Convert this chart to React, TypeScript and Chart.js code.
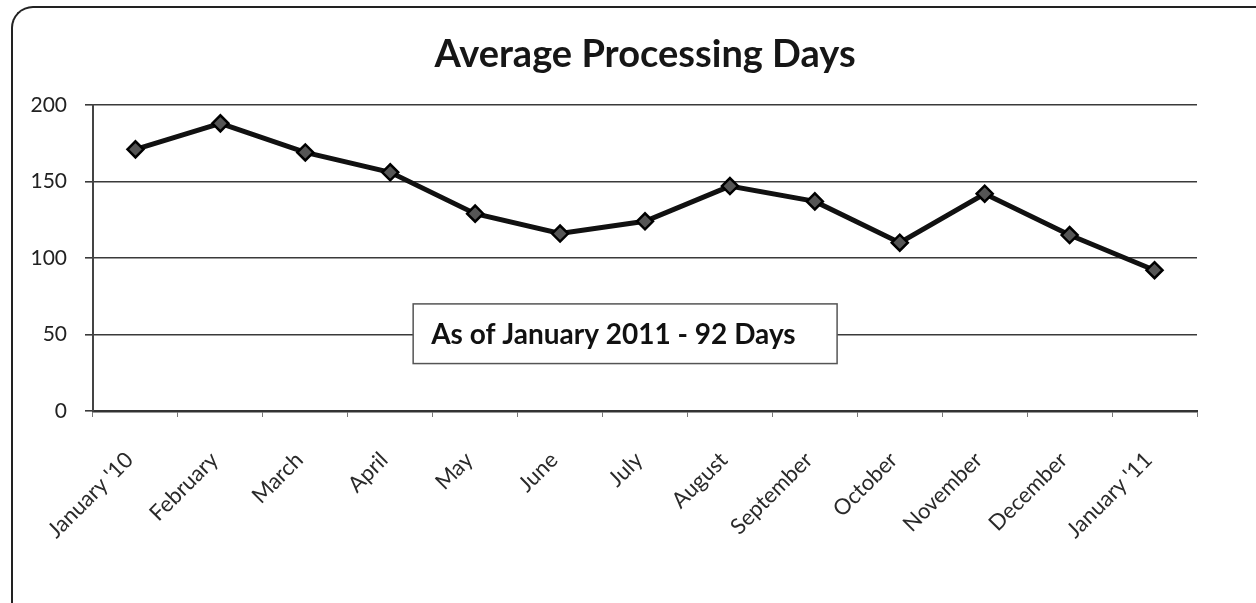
import React, { useEffect, useRef } from "react";
import { Chart, registerables } from "chart.js";

Chart.register(...registerables);

const TITLE = "Average Processing Days";
const NOTE = "As of January 2011 - 92 Days";
const categories = [
  "January '10", "February", "March", "April", "May", "June", "July",
  "August", "September", "October", "November", "December", "January '11",
];
const processingDays = [171, 188, 169, 156, 129, 116, 124, 147, 137, 110, 142, 115, 92];
const yTicks = [0, 50, 100, 150, 200];
const noteRange = [31, 70]; // value span covered by the note box

const FONT = "Lato, 'Open Sans', sans-serif";

const overlay = {
  id: "overlay",
  afterDraw(chart: any) {
    const { ctx, chartArea, scales } = chart;
    ctx.save();
    // title
    ctx.font = `bold 38px ${FONT}`;
    ctx.fillStyle = "#161616";
    ctx.textAlign = "center";
    ctx.textBaseline = "alphabetic";
    ctx.fillText(TITLE, (chartArea.left + chartArea.right) / 2, 67);
    // note box
    const w = chartArea.right - chartArea.left;
    const left = chartArea.left + w * 0.29;
    const right = chartArea.left + w * 0.674;
    const top = scales.y.getPixelForValue(noteRange[1]);
    const bottom = scales.y.getPixelForValue(noteRange[0]);
    ctx.fillStyle = "#ffffff";
    ctx.fillRect(left, top, right - left, bottom - top);
    ctx.strokeStyle = "#555";
    ctx.lineWidth = 1.5;
    ctx.strokeRect(left, top, right - left, bottom - top);
    ctx.font = `bold 28px ${FONT}`;
    ctx.fillStyle = "#111";
    ctx.textAlign = "left";
    ctx.textBaseline = "middle";
    ctx.fillText(NOTE, left + 18, (top + bottom) / 2 + 1);
    ctx.restore();
  },
};

export default function App() {
  const ref = useRef<HTMLCanvasElement>(null);
  useEffect(() => {
    if (!ref.current) return;
    const chart = new Chart(ref.current, {
      type: "line",
      data: {
        labels: categories,
        datasets: [
          {
            data: processingDays,
            borderColor: "#111",
            borderWidth: 5,
            pointStyle: "rectRot",
            pointRadius: 8,
            pointBackgroundColor: "#555",
            pointBorderColor: "#000",
            pointBorderWidth: 2.5,
            tension: 0,
          },
        ],
      },
      options: {
        animation: false,
        responsive: false,
        devicePixelRatio: 1,
        layout: { padding: { left: 0, right: 59, top: 105, bottom: 0 } },
        plugins: { legend: { display: false }, title: { display: false }, tooltip: { enabled: false } },
        scales: {
          x: {
            offset: true,
            grid: { offset: true, drawOnChartArea: false, drawTicks: true, tickLength: 6, color: "#777", lineWidth: 1 },
            border: { color: "#333", width: 2.5 },
            ticks: {
              minRotation: 45,
              maxRotation: 45,
              padding: 30,
              labelOffset: -6,
              color: "#2a2a2a",
              font: { family: FONT, size: 22 },
            },
            afterFit: (s: any) => { s.height = 192; },
          },
          y: {
            min: 0,
            max: 200,
            afterBuildTicks: (s: any) => { s.ticks = yTicks.map((v) => ({ value: v })); },
            grid: { color: "#3a3a3a", lineWidth: 1.6, tickLength: 8, drawTicks: true },
            border: { color: "#444", width: 2 },
            ticks: {
              padding: 18,
              color: "#222",
              font: { family: FONT, size: 21 },
            },
            afterFit: (s: any) => { s.width = 93; },
          },
        },
      },
      plugins: [overlay],
    });
    return () => chart.destroy();
  }, []);
  return (
    <div style={{ position: "absolute", left: 0, top: 0, width: 1256, height: 603, background: "#fff", overflow: "hidden" }}>
      <div
        style={{
          position: "absolute", left: 11, top: 6, width: 1300, height: 700,
          borderLeft: "2px solid #222", borderTop: "2px solid #222", borderTopLeftRadius: 22,
        }}
      />
      <canvas ref={ref} width={1256} height={603} style={{ position: "absolute", left: 0, top: 0 }} />
    </div>
  );
}
